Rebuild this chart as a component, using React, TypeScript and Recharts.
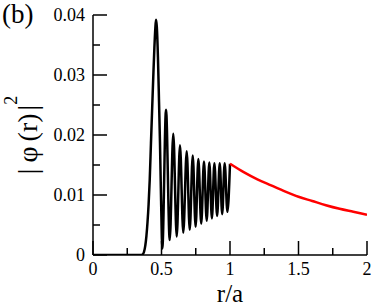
import React from 'react';
import { LineChart, Line, XAxis, YAxis, Label } from 'recharts';

// black curve: |phi(r)|^2 inside (r/a <= 1)
const innerR = [0, 0.3, 0.35, 0.362, 0.372, 0.382, 0.39, 0.398, 0.406, 0.414, 0.423, 0.432, 0.44, 0.448, 0.455, 0.46, 0.466, 0.474, 0.482, 0.489, 0.497, 0.506,
  0.533, 0.56, 0.586, 0.611, 0.635, 0.659, 0.684, 0.706, 0.728, 0.749, 0.769, 0.79, 0.81, 0.83, 0.849, 0.868, 0.886, 0.906, 0.925, 0.943, 0.961, 0.981, 1.0];
const innerV = [0, 0, 0, 0.0001, 0.0005, 0.0016, 0.0032, 0.0055, 0.0085, 0.0125, 0.0186, 0.0245, 0.0297, 0.0345, 0.0378, 0.0392, 0.038, 0.033, 0.0255, 0.0186, 0.009, 0.0011,
  0.0242, 0.0025, 0.0202, 0.0031, 0.0183, 0.0037, 0.0173, 0.0042, 0.0166, 0.0047, 0.016, 0.0052, 0.0156, 0.0057, 0.0154, 0.0061, 0.0153, 0.0065, 0.0153, 0.0068, 0.0153, 0.0072, 0.0152];

// red curve: outside (r/a >= 1)
const outerR = [1.0, 1.1, 1.2, 1.3, 1.4, 1.5, 1.6, 1.7, 1.8, 1.9, 2.0];
const outerV = [0.0152, 0.0138, 0.0126, 0.0116, 0.0106, 0.0097, 0.009, 0.0083, 0.0077, 0.0072, 0.0067];

const xTicks = [0, 0.25, 0.5, 0.75, 1, 1.25, 1.5, 1.75, 2];
const xMajor = [0, 0.5, 1, 1.5, 2];
const xLabels = ['0', '0.5', '1', '1.5', '2'];
const yTicks = [0, 0.005, 0.01, 0.015, 0.02, 0.025, 0.03, 0.035, 0.04];
const yMajor = [0, 0.01, 0.02, 0.03, 0.04];
const yLabels = ['0', '0.01', '0.02', '0.03', '0.04'];

const innerData = innerR.map((r, i) => ({ r, v: innerV[i] }));
const outerData = outerR.map((r, i) => ({ r, v: outerV[i] }));

const FONT = "'Liberation Serif', Tinos, 'Times New Roman', 'Nimbus Roman', 'DejaVu Serif', serif";
const MAJOR = 14;
const MINOR = 7;
const TICK_FS = 18;

const majorIndex = (list: number[], v: number) => list.findIndex((m) => Math.abs(m - v) < 1e-9);

const makeTick = (side: 'bottom' | 'top' | 'left' | 'right') => (props: any) => {
  const { x, y, payload } = props;
  const v = payload.value;
  const majors = side === 'bottom' || side === 'top' ? xMajor : yMajor;
  const labels = side === 'bottom' || side === 'top' ? xLabels : yLabels;
  const idx = majorIndex(majors, v);
  const len = idx >= 0 ? MAJOR : MINOR;
  let line;
  if (side === 'bottom') line = <line x1={x} y1={y} x2={x} y2={y - len} stroke="#000" strokeWidth={1.5} />;
  else if (side === 'top') line = <line x1={x} y1={y} x2={x} y2={y + len} stroke="#000" strokeWidth={1.5} />;
  else if (side === 'left') line = <line x1={x} y1={y} x2={x + len} y2={y} stroke="#000" strokeWidth={1.5} />;
  else line = <line x1={x} y1={y} x2={x - len} y2={y} stroke="#000" strokeWidth={1.5} />;
  let text = null;
  if (idx >= 0 && side === 'bottom') {
    text = (
      <text x={x} y={y + 20} textAnchor="middle" style={{ fontFamily: FONT, fontSize: TICK_FS }} fill="#000">
        {labels[idx]}
      </text>
    );
  } else if (idx >= 0 && side === 'left') {
    text = (
      <text x={x - 8} y={y + 6} textAnchor="end" style={{ fontFamily: FONT, fontSize: TICK_FS }} fill="#000">
        {labels[idx]}
      </text>
    );
  }
  return (
    <g>
      {line}
      {text}
    </g>
  );
};

const XTitle = (props: any) => {
  const { viewBox } = props;
  const cx = viewBox.x + viewBox.width / 2;
  return (
    <text x={cx} y={viewBox.y + 47} textAnchor="middle" style={{ fontFamily: FONT, fontSize: 25 }} fill="#000">
      r/a
    </text>
  );
};

const YTitle = (props: any) => {
  const { viewBox } = props;
  const cy = viewBox.y + viewBox.height / 2;
  return (
    <g>
      <text transform={`translate(37, ${cy}) rotate(-90)`} textAnchor="middle" style={{ fontFamily: FONT, fontSize: 28 }} fill="#000">
        <tspan>|</tspan>
        <tspan dx={6}>φ</tspan>
        <tspan dx={5}>(r)</tspan>
        <tspan dx={3}>|</tspan>
        <tspan dy={-20} style={{ fontSize: 18 }}>2</tspan>
      </text>
      <text x={2} y={viewBox.y + 8} style={{ fontFamily: FONT, fontSize: 27 }} fill="#000">
        (b)
      </text>
    </g>
  );
};

export default function App() {
  return (
    <div style={{ position: 'absolute', left: 0, top: 0, background: '#fff' }}>
      <LineChart width={374} height={307} margin={{ top: 15, right: 7, bottom: 0, left: 0 }}>
        <XAxis
          xAxisId="b"
          type="number"
          dataKey="r"
          domain={[0, 2]}
          allowDataOverflow
          ticks={xTicks}
          interval={0}
          orientation="bottom"
          height={52}
          tickSize={0}
          tickMargin={0}
          tickLine={false}
          axisLine={{ stroke: '#000', strokeWidth: 1.5 }}
          tick={makeTick('bottom')}
        >
          <Label content={XTitle} />
        </XAxis>
        <XAxis
          xAxisId="t"
          type="number"
          dataKey="r"
          domain={[0, 2]}
          allowDataOverflow
          ticks={xTicks}
          interval={0}
          orientation="top"
          height={0}
          tickSize={0}
          tickMargin={0}
          tickLine={false}
          axisLine={{ stroke: '#000', strokeWidth: 1.5 }}
          tick={makeTick('top')}
        />
        <YAxis
          yAxisId="l"
          type="number"
          domain={[0, 0.04]}
          allowDataOverflow
          ticks={yTicks}
          interval={0}
          orientation="left"
          width={93}
          tickSize={0}
          tickMargin={0}
          tickLine={false}
          axisLine={{ stroke: '#000', strokeWidth: 1.5 }}
          tick={makeTick('left')}
        >
          <Label content={YTitle} />
        </YAxis>
        <YAxis
          yAxisId="rt"
          type="number"
          domain={[0, 0.04]}
          allowDataOverflow
          ticks={yTicks}
          interval={0}
          orientation="right"
          width={0}
          tickSize={0}
          tickMargin={0}
          tickLine={false}
          axisLine={{ stroke: '#000', strokeWidth: 1.5 }}
          tick={makeTick('right')}
        />
        <Line
          xAxisId="b"
          yAxisId="l"
          data={innerData}
          dataKey="v"
          type="monotone"
          stroke="#000"
          strokeWidth={2.5}
          dot={false}
          isAnimationActive={false}
        />
        <Line
          xAxisId="b"
          yAxisId="l"
          data={outerData}
          dataKey="v"
          type="monotone"
          stroke="#ff0000"
          strokeWidth={2.5}
          dot={false}
          isAnimationActive={false}
        />
      </LineChart>
    </div>
  );
}
